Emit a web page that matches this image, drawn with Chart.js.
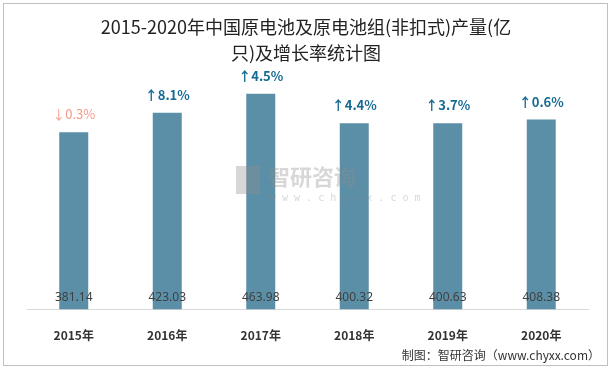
<!DOCTYPE html>
<html>
<head>
<meta charset="utf-8">
<script src="https://cdn.jsdelivr.net/npm/chart.js@4"></script>
<style>
  html, body { margin: 0; padding: 0; background: #fff; }
  #wrap { width: 612px; height: 370px; position: relative; }
</style>
</head>
<body>
<div id="wrap"><canvas id="chart" width="612" height="370"></canvas></div>
<script>
// 2015-2020 原电池及原电池组产量 + 增长率
const years = ['2015年', '2016年', '2017年', '2018年', '2019年', '2020年'];
const output = [381.14, 423.03, 463.98, 400.32, 400.63, 408.38];
const growth = [-0.3, 8.1, 4.5, 4.4, 3.7, 0.6];

const titleLines = ['2015-2020年中国原电池及原电池组(非扣式)产量(亿', '只)及增长率统计图'];
const sourceText = '制图：智研咨询（www.chyxx.com）';

const fontCJK = '"Noto Sans CJK SC", "Noto Sans", sans-serif';

const decor = {
  id: 'decor',
  beforeDraw(chart) {
    const ctx = chart.ctx;
    ctx.save();
    ctx.fillStyle = '#fff';
    ctx.fillRect(0, 0, chart.width, chart.height);
    // frame
    ctx.strokeStyle = '#c0c0c0';
    ctx.lineWidth = 1;
    ctx.strokeRect(3.5, 3.5, 604, 362);
    ctx.restore();
  },
  afterDraw(chart) {
    const ctx = chart.ctx;
    const meta = chart.getDatasetMeta(0);
    ctx.save();
    // watermark over the bars
    ctx.fillStyle = 'rgba(140,140,140,0.35)';
    ctx.font = 'bold 22px ' + fontCJK;
    ctx.textAlign = 'left';
    ctx.textBaseline = 'middle';
    ctx.fillText('智研咨询', 268, 177);
    ctx.font = '10px "DejaVu Sans Mono", monospace';
    ctx.fillText('w w w . c h y x x . c o m', 270, 198);
    ctx.fillRect(236, 166, 24, 28);
    // title
    ctx.fillStyle = '#222';
    ctx.font = '18px ' + fontCJK;
    ctx.textAlign = 'center';
    ctx.fillText(titleLines[0], 306, 27);
    ctx.fillText(titleLines[1], 306, 53);
    // bar labels
    meta.data.forEach((bar, i) => {
      ctx.font = '12px "Noto Sans", sans-serif';
      ctx.fillStyle = '#404040';
      ctx.fillText(output[i].toFixed(2), bar.x, 298);
      const g = growth[i];
      const up = g >= 0;
      ctx.fillStyle = up ? '#156a94' : '#f39a88';
      ctx.font = (up ? 'bold ' : '') + '13px ' + fontCJK;
      ctx.fillText((up ? '↑' : '↓') + Math.abs(g).toFixed(1) + '%', bar.x, bar.y - 18);
    });
    // source
    ctx.fillStyle = '#333';
    ctx.font = '12px ' + fontCJK;
    ctx.textAlign = 'right';
    ctx.fillText(sourceText, 600, 355);
    ctx.restore();
  }
};

new Chart(document.getElementById('chart'), {
  type: 'bar',
  data: {
    labels: years,
    datasets: [{
      data: output,
      backgroundColor: '#5b8fa7',
      barPercentage: 0.31,
      categoryPercentage: 1
    }]
  },
  options: {
    responsive: false,
    animation: false,
    layout: { padding: { left: 27, right: 24, top: 77, bottom: 8 } },
    plugins: { legend: { display: false }, tooltip: { enabled: false } },
    scales: {
      x: {
        grid: { display: false, drawTicks: false },
        border: { display: true, color: '#d9d9d9' },
        ticks: { padding: 19, color: '#333', font: { size: 12, weight: 'bold', family: fontCJK } }
      },
      y: { display: false, min: 0, max: 500 }
    }
  },
  plugins: [decor]
});
</script>
</body>
</html>
